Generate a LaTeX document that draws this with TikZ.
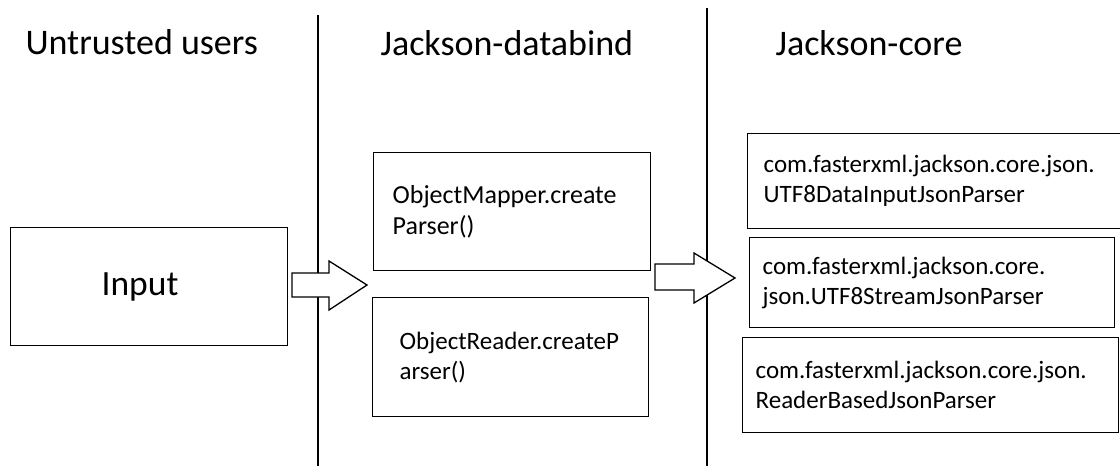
\documentclass[tikz,border=0pt]{standalone}
\usepackage{fontspec}
\setmainfont{Carlito}
\usetikzlibrary{positioning}

\begin{document}
\begin{tikzpicture}[
      x=1pt, y=-1pt,
      heading/.style={anchor=base west, font=\fontsize{36}{42}\selectfont},
      box/.style={draw, line width=1.3pt, anchor=north west, align=left, inner ysep=0pt, font=\fontsize{25}{30}\selectfont},
      blockarrow/.style={draw, line width=1.3pt, fill=white, line join=miter}
    ]
      \useasboundingbox (0,0) rectangle (1120,466);
      % lanes
      \draw[line width=1.3pt] (318,15) -- (318,466);
      \draw[line width=1.3pt] (707,8) -- (707,466);
      \node[heading] (users) at (22,54) {Untrusted users};
      \node[heading] (databind) at (377,55) {Jackson-databind};
      \node[heading] (core) at (772,55) {Jackson-core};
      % boxes
      \node[box, align=left, minimum width=277pt, minimum height=118pt, inner xsep=91pt, text width=95pt, font=\fontsize{35.5}{40}\selectfont] (input) at (10,227) {Input};
      \node[box, minimum width=277pt, minimum height=118pt, inner xsep=19pt, text width=239pt, font=\fontsize{26}{31}\selectfont] (mapper) at (373,152) {ObjectMapper.create\\Parser()};
      \node[box, minimum width=276pt, minimum height=119pt, inner xsep=27pt, text width=222pt] (reader) at (372,297) {ObjectReader.createP\\arser()\\[6pt]};
      \node[box, minimum width=373pt, minimum height=95pt, inner xsep=16pt, text width=341pt] (dataparser) at (747,133) {com.fasterxml.jackson.core.json.\\UTF8DataInputJsonParser\\[2pt]};
      \node[box, minimum width=365pt, minimum height=90pt, inner xsep=13pt, text width=339pt] (streamparser) at (749,237) {com.fasterxml.jackson.core.\\json.UTF8StreamJsonParser\\[4pt]};
      \node[box, minimum width=376pt, minimum height=95pt, inner xsep=13pt, text width=350pt] (readerparser) at (742,337) {com.fasterxml.jackson.core.json.\\ReaderBasedJsonParser\\[4pt]};
      % arrows
      \draw[blockarrow] (292,273) -- (329,273) -- (329,261) -- (367,285) -- (329,310) -- (329,297) -- (292,297) -- cycle;
      \draw[blockarrow] (655,264) -- (694,264) -- (694,253) -- (735,278) -- (694,303) -- (694,290) -- (655,290) -- cycle;
    \end{tikzpicture}
\end{document}
